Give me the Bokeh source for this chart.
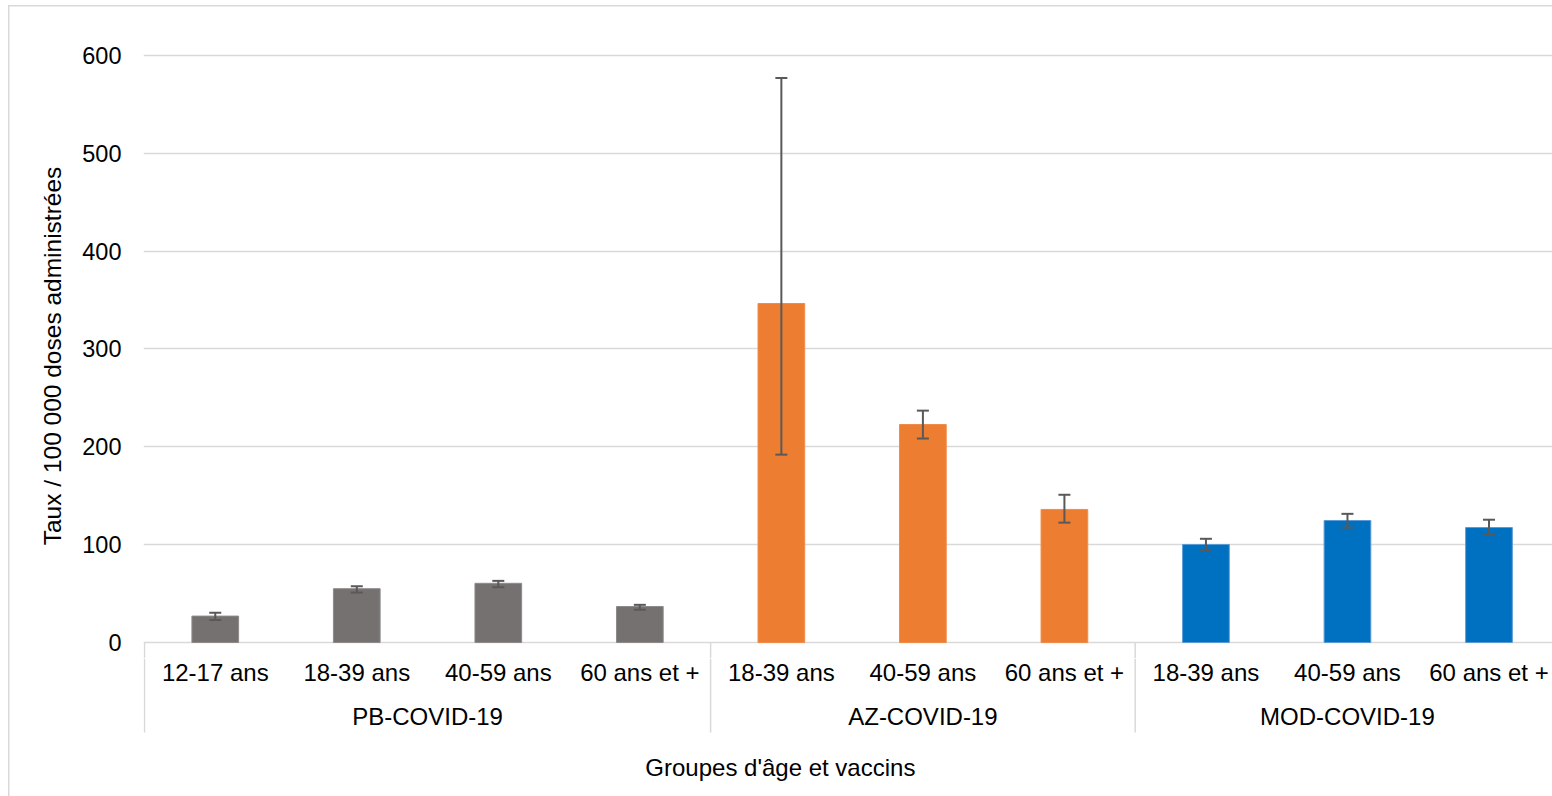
from bokeh.plotting import figure
from bokeh.models import Range1d, FixedTicker, ColumnDataSource, Whisker, TeeHead
from bokeh.layouts import column
from bokeh.core.properties import value
from bokeh.embed import file_html
from bokeh.resources import INLINE

# ---- data ----
vaccines = ["PB-COVID-19", "AZ-COVID-19", "MOD-COVID-19"]
ages_pb = ["12-17 ans", "18-39 ans", "40-59 ans", "60 ans et +"]
ages_az = ["18-39 ans", "40-59 ans", "60 ans et +"]
ages_mod = ["18-39 ans", "40-59 ans", "60 ans et +"]
rate_pb = [27.0, 55.0, 60.5, 36.8]
rate_az = [346.5, 222.8, 136.0]
rate_mod = [100.2, 124.7, 117.5]
low_pb = [23.0, 51.0, 56.5, 33.5]
low_az = [192.0, 208.5, 122.5]
low_mod = [94.0, 117.5, 110.5]
high_pb = [30.5, 57.5, 63.0, 38.5]
high_az = [577.0, 237.0, 151.0]
high_mod = [106.0, 131.5, 125.5]
y_ticks = [0, 100, 200, 300, 400, 500, 600]

fill_colors = {"PB-COVID-19": "#767171", "AZ-COVID-19": "#ED7D31", "MOD-COVID-19": "#0070C0"}
edge_colors = {"PB-COVID-19": "#8f8b8b", "AZ-COVID-19": "#F08C4A", "MOD-COVID-19": "#5B9BD5"}

groups = [(vaccines[0], ages_pb, rate_pb, low_pb, high_pb),
          (vaccines[1], ages_az, rate_az, low_az, high_az),
          (vaccines[2], ages_mod, rate_mod, low_mod, high_mod)]

xs, rates, lows, highs, fills, edges, labels = [], [], [], [], [], [], []
group_centers, group_bounds = [], [0.0]
i = 0
for vac, ages, r, lo, hi in groups:
    start = i
    for a, v, l, h in zip(ages, r, lo, hi):
        xs.append(i + 0.5)
        rates.append(v)
        lows.append(l)
        highs.append(h)
        fills.append(fill_colors[vac])
        edges.append(edge_colors[vac])
        labels.append(a)
        i += 1
    group_centers.append((start + i) / 2)
    group_bounds.append(float(i))

src = ColumnDataSource(dict(x=xs, top=rates, lo=lows, hi=highs, fill=fills, edge=edges, label=labels))

FONT = "Liberation Sans"
PX_PER_CAT = 141.5
LEFT = 144.25
W, H = 1552, 796
xr = Range1d(-1 / PX_PER_CAT, (W - LEFT) / PX_PER_CAT)

TOP_H = 658          # top figure height
FR_TOP = 53          # frame top in px
PX_PER_UNIT = 0.97833
y_top = 600 + (55 - FR_TOP) / PX_PER_UNIT
y_bot = y_top - (TOP_H - FR_TOP) / PX_PER_UNIT

# ---- main plot ----
p = figure(width=W, height=TOP_H, x_range=xr, y_range=Range1d(y_bot, y_top),
           output_backend="svg", toolbar_location=None, x_axis_location=None,
           min_border_left=143, min_border_right=0, min_border_top=FR_TOP, min_border_bottom=0,
           outline_line_color=None, border_fill_color=None, background_fill_color=None)
p.xgrid.visible = False
p.ygrid.ticker = FixedTicker(ticks=y_ticks)
p.ygrid.grid_line_color = "#d9d9d9"
p.ygrid.grid_line_width = 1.5
p.yaxis.ticker = FixedTicker(ticks=y_ticks)
p.yaxis.axis_line_color = None
p.yaxis.major_tick_line_color = None
p.yaxis.minor_tick_line_color = None
p.yaxis.major_label_standoff = 16
p.yaxis.major_label_text_font = FONT
p.yaxis.major_label_text_font_size = "23.5px"
p.yaxis.major_label_text_color = "#000000"
p.yaxis.axis_label = "Taux / 100 000 doses administrées"
p.yaxis.axis_label_text_font = FONT
p.yaxis.axis_label_text_font_size = "24.5px"
p.yaxis.axis_label_text_font_style = "normal"
p.yaxis.axis_label_text_color = "#000000"
p.yaxis.axis_label_standoff = 13

p.vbar(x="x", top="top", bottom=0, width=0.33, source=src, fill_color="fill",
       line_color="edge", line_width=1)

whisk = Whisker(base="x", lower="lo", upper="hi", source=src, line_color="#595959", line_width=2,
                upper_head=TeeHead(size=12, line_color="#595959", line_width=2),
                lower_head=TeeHead(size=12, line_color="#595959", line_width=2),
                level="overlay")
p.add_layout(whisk)

# separators, upper part (below the zero line)
p.segment(x0=group_bounds, y0=[0] * len(group_bounds), x1=group_bounds, y1=[y_bot] * len(group_bounds),
          line_color="#d9d9d9", line_width=1.5)

# ---- category axis area ----
BOT_H = H - TOP_H
q = figure(width=W, height=BOT_H, x_range=xr, y_range=Range1d(BOT_H, 0),
           output_backend="svg", toolbar_location=None,
           x_axis_location=None, y_axis_location=None,
           min_border_left=143, min_border_right=0, min_border_top=0, min_border_bottom=0,
           outline_line_color=None, border_fill_color=None, background_fill_color=None)
q.grid.visible = False

q.segment(x0=group_bounds, y0=[0] * len(group_bounds), x1=group_bounds,
          y1=[732 - TOP_H] * len(group_bounds), line_color="#d9d9d9", line_width=1.5)
q.text(x=xs, y=[672 - TOP_H] * len(xs), text=labels, text_align="center", text_baseline="middle",
       text_font=value(FONT), text_font_size="24px", text_color="#000000")
q.text(x=group_centers, y=[716 - TOP_H] * len(group_centers), text=vaccines, text_align="center",
       text_baseline="middle", text_font=value(FONT), text_font_size="24px", text_color="#000000")
q.text(x=[(780 - LEFT) / PX_PER_CAT], y=[767 - TOP_H], text=["Groupes d'âge et vaccins"],
       text_align="center", text_baseline="middle", text_font=value(FONT),
       text_font_size="24px", text_color="#000000")

layout = column(p, q, spacing=0)
layout.styles = {
    "background-color": "#ffffff",
    "background-image": "linear-gradient(#d9d9d9, #d9d9d9), linear-gradient(#d9d9d9, #d9d9d9)",
    "background-size": "1.5px 100%, 100% 1.5px",
    "background-position": "8px 5px, 8px 5px",
    "background-repeat": "no-repeat",
}

open("out.html", "w").write(file_html(layout, INLINE))
